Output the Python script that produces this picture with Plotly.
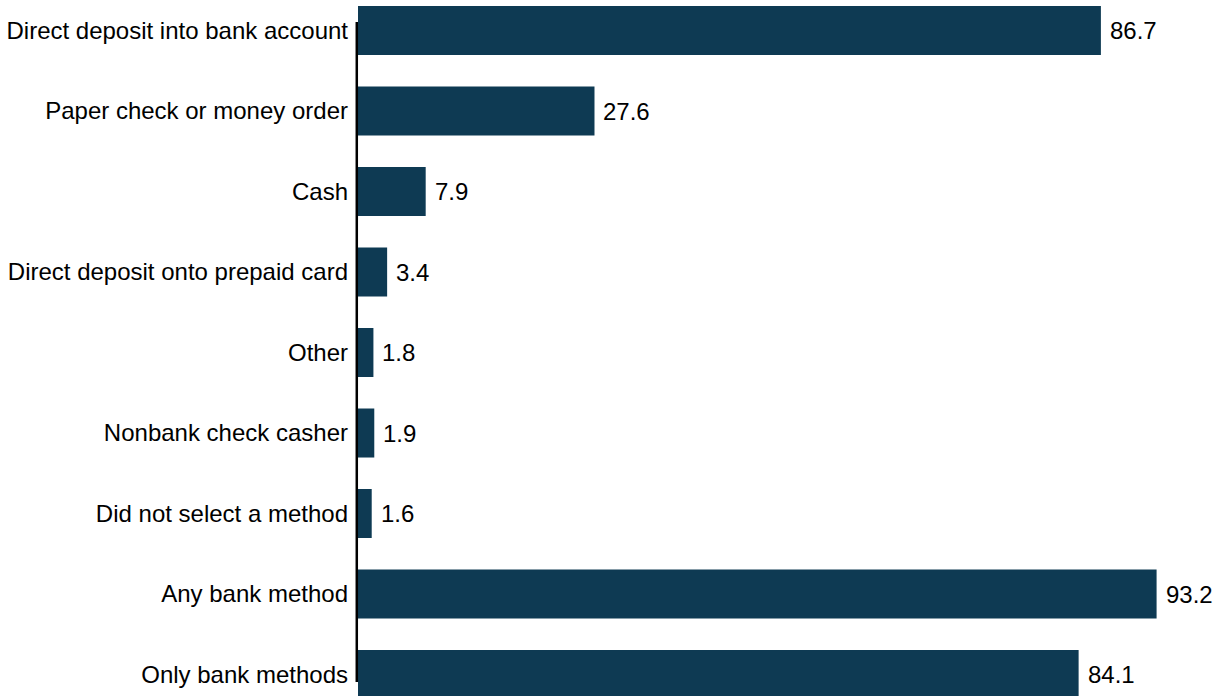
import plotly.graph_objects as go

categories = [
    "Direct deposit into bank account",
    "Paper check or money order",
    "Cash",
    "Direct deposit onto prepaid card",
    "Other",
    "Nonbank check casher",
    "Did not select a method",
    "Any bank method",
    "Only bank methods",
]
values = [86.7, 27.6, 7.9, 3.4, 1.8, 1.9, 1.6, 93.2, 84.1]
value_labels = ["86.7", "27.6", "7.9", "3.4", "1.8", "1.9", "1.6", "93.2", "84.1"]

bar_color = "#0e3a53"
font_family = "Liberation Sans, Arial, sans-serif"

fig = go.Figure()
fig.add_trace(go.Bar(
    x=values,
    y=categories,
    orientation="h",
    marker=dict(color=bar_color, line=dict(width=0)),
    width=0.609,
    hoverinfo="skip",
))

for cat, v, lab in zip(categories, values, value_labels):
    fig.add_annotation(
        x=v, y=cat, text=lab, showarrow=False,
        xanchor="left", yanchor="middle", xshift=7,
        font=dict(family=font_family, size=24, color="#000000"),
    )

# vertical axis line
fig.add_shape(
    type="line", xref="paper", yref="paper",
    x0=-0.0014, x1=-0.0014, y0=1 - 22 / 696, y1=1 - 682 / 696,
    line=dict(color="#000000", width=2.5),
)

fig.update_layout(
    width=1226, height=696,
    margin=dict(l=358, r=0, t=0, b=0, autoexpand=False),
    plot_bgcolor="white", paper_bgcolor="white",
    showlegend=False,
    font=dict(family=font_family, size=24, color="#000000"),
    xaxis=dict(range=[0, 101.3], visible=False, fixedrange=True),
    yaxis=dict(
        type="category",
        categoryorder="array", categoryarray=categories,
        range=[8.267, -0.379],
        showline=False, showgrid=False, zeroline=False,
        ticks="", ticklabelstandoff=9,
        tickfont=dict(family=font_family, size=24, color="#000000"),
        automargin=False,
    ),
)

fig.write_html(
    "out.html",
    config={"displayModeBar": False},
    post_script="document.body.style.margin='0';document.body.style.overflow='hidden';",
)
